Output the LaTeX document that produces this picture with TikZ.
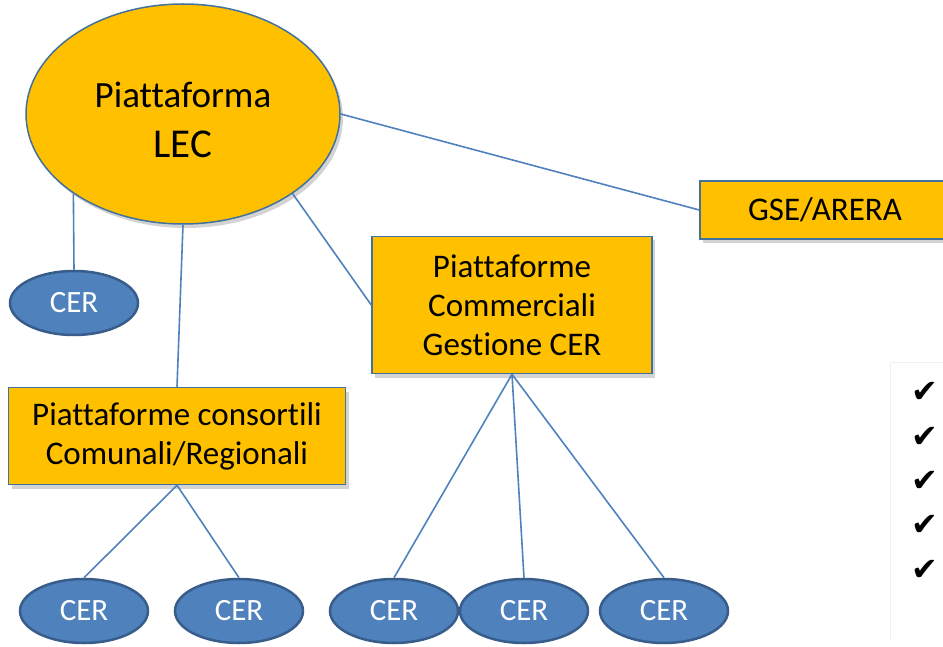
\documentclass[tikz,border=0pt]{standalone}
\usepackage{fontspec}
\setmainfont{Carlito}[RawFeature={-liga;-clig;-dlig;-calt}]
\newfontfamily\symfont{DejaVu Sans}
\usetikzlibrary{shapes.geometric,shadows}
\definecolor{lecorange}{HTML}{FFC000}
\definecolor{edgeblue}{HTML}{41719C}
\definecolor{cerblue}{HTML}{4F81BD}
\definecolor{cerborder}{HTML}{385D8A}
\definecolor{linkblue}{HTML}{4F81BD}
\tikzset{
  platform/.style={draw=edgeblue, line width=1.5pt, fill=lecorange, align=center,
    drop shadow={opacity=0.35, shadow xshift=3pt, shadow yshift=-4pt},
    font=\fontsize{33}{39}\selectfont},
  cer/.style={ellipse, draw=cerborder, line width=2.5pt, fill=cerblue, text=white,
    minimum width=128pt, minimum height=64pt, inner sep=0pt,
    font=\fontsize{31}{36}\selectfont},
  link/.style={draw=linkblue, line width=1.6pt},
}
\begin{document}
\begin{tikzpicture}[x=1pt,y=-1pt]
\clip (0,0) rectangle (943,647);
% Faint frame of the check list on the right
\draw[gray!12] (890,640) -- (890,362) -- (943,362);
% The main platform
\node[platform, ellipse, minimum width=314pt, minimum height=220pt, inner sep=0pt,
  font=\fontsize{37}{50}\selectfont] (lec) at (183,114)
  {\rule{0pt}{37pt}Piattaforma\\{\fontsize{41}{50}\selectfont LEC}};
% Platforms below it
\node[platform, minimum width=337pt, minimum height=97pt] (cons) at (177,436)
  {Piattaforme consortili\\Comunali/Regionali};
\node[platform, minimum width=280pt, minimum height=137pt] (com) at (512,305)
  {Piattaforme\\Commerciali\\Gestione CER};
\node[platform, minimum width=250pt, minimum height=58pt] (gse) at (825,210) {GSE/ARERA};
% The CERs
\node[cer] (cer0) at (74,303) {CER};
\foreach \x [count=\i] in {84,239,394,524,664}
{
  \node[cer] (cer\i) at (\x,611) {CER};
}
% Links from the main platform
\draw[link] (lec.-144) -- (cer0.north);
\draw[link] (lec.south) -- (cons.north);
\draw[link] (lec.-36) -- (com.west);
\draw[link] (lec.east) -- (gse.west);
% Links down to the CERs
\foreach \i in {1,2}
  \draw[link] (cons.south) -- (cer\i.north);
\foreach \i in {3,4,5}
  \draw[link] (com.south) -- (cer\i.north);
% Check marks
\foreach \y [count=\i] in {392,437,481,525,570}
{
  \node[font=\symfont\fontsize{32}{32}\selectfont] (chk\i) at (925,\y) {✔};
}
\end{tikzpicture}
\end{document}
